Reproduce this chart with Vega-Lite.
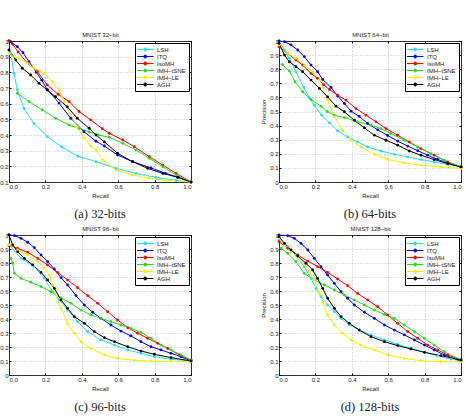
{
"$schema": "https://vega.github.io/schema/vega-lite/v6.json",
"padding": {"left": -10, "top": 31, "right": 0, "bottom": 0},
"background": "white",
"config": {
 "font": "Liberation Sans",
 "view": {"stroke": null},
 "axis": {"labelFontSize": 6, "titleFontSize": 6, "titleFontWeight": "normal", "labelColor": "#222", "titleColor": "#222", "domainColor": "black", "domainWidth": 0.8, "tickColor": "black", "tickSize": -2, "labelPadding": 3, "gridColor": "#999999", "gridDash": [1, 2], "gridWidth": 0.6, "titlePadding": 3},
 "legend": {"orient": "top-right", "offset": 2, "fillColor": "white", "strokeColor": "black", "padding": 3, "labelFontSize": 6, "rowPadding": 0, "symbolType": "M-1.5,0H4M0.75,0A0.5,0.5 0 1,0 1.75,0A0.5,0.5 0 1,0 0.75,0", "symbolSize": 36, "symbolStrokeWidth": 1, "labelOffset": 12, "labelLimit": 60, "title": null, "labelColor": "#222"},
 "line": {"strokeWidth": 1},
 "point": {"filled": true, "size": 8, "opacity": 1}
},
"datasets": {
 "a": [
  {"m":"LSH","r":0,"v":0.94},{"m":"LSH","r":0.01,"v":0.92},{"m":"LSH","r":0.027,"v":0.794},{"m":"LSH","r":0.046,"v":0.687},{"m":"LSH","r":0.082,"v":0.57},{"m":"LSH","r":0.137,"v":0.474},{"m":"LSH","r":0.21,"v":0.39},{"m":"LSH","r":0.289,"v":0.324},{"m":"LSH","r":0.38,"v":0.264},{"m":"LSH","r":0.478,"v":0.23},{"m":"LSH","r":0.588,"v":0.187},{"m":"LSH","r":0.698,"v":0.155},{"m":"LSH","r":0.808,"v":0.13},{"m":"LSH","r":0.918,"v":0.11},{"m":"LSH","r":1,"v":0.1},
  {"m":"ITQ","r":0,"v":1},{"m":"ITQ","r":0.01,"v":0.995},{"m":"ITQ","r":0.046,"v":0.964},{"m":"ITQ","r":0.077,"v":0.925},{"m":"ITQ","r":0.11,"v":0.868},{"m":"ITQ","r":0.15,"v":0.8},{"m":"ITQ","r":0.18,"v":0.75},{"m":"ITQ","r":0.21,"v":0.69},{"m":"ITQ","r":0.275,"v":0.604},{"m":"ITQ","r":0.339,"v":0.507},{"m":"ITQ","r":0.412,"v":0.421},{"m":"ITQ","r":0.478,"v":0.36},{"m":"ITQ","r":0.524,"v":0.33},{"m":"ITQ","r":0.597,"v":0.272},{"m":"ITQ","r":0.679,"v":0.23},{"m":"ITQ","r":0.78,"v":0.19},{"m":"ITQ","r":0.86,"v":0.155},{"m":"ITQ","r":0.93,"v":0.13},{"m":"ITQ","r":1,"v":0.1},
  {"m":"IsoMH","r":0,"v":1},{"m":"IsoMH","r":0.02,"v":0.98},{"m":"IsoMH","r":0.05,"v":0.93},{"m":"IsoMH","r":0.1,"v":0.86},{"m":"IsoMH","r":0.156,"v":0.804},{"m":"IsoMH","r":0.21,"v":0.72},{"m":"IsoMH","r":0.27,"v":0.66},{"m":"IsoMH","r":0.33,"v":0.613},{"m":"IsoMH","r":0.385,"v":0.55},{"m":"IsoMH","r":0.449,"v":0.496},{"m":"IsoMH","r":0.513,"v":0.44},{"m":"IsoMH","r":0.551,"v":0.411},{"m":"IsoMH","r":0.625,"v":0.368},{"m":"IsoMH","r":0.689,"v":0.325},{"m":"IsoMH","r":0.771,"v":0.261},{"m":"IsoMH","r":0.845,"v":0.208},{"m":"IsoMH","r":0.918,"v":0.155},{"m":"IsoMH","r":1,"v":0.1},
  {"m":"IMH−tSNE","r":0.046,"v":0.666},{"m":"IMH−tSNE","r":0.11,"v":0.613},{"m":"IMH−tSNE","r":0.183,"v":0.56},{"m":"IMH−tSNE","r":0.256,"v":0.507},{"m":"IMH−tSNE","r":0.33,"v":0.464},{"m":"IMH−tSNE","r":0.385,"v":0.443},{"m":"IMH−tSNE","r":0.44,"v":0.42},{"m":"IMH−tSNE","r":0.49,"v":0.4},{"m":"IMH−tSNE","r":0.551,"v":0.385},{"m":"IMH−tSNE","r":0.625,"v":0.347},{"m":"IMH−tSNE","r":0.698,"v":0.304},{"m":"IMH−tSNE","r":0.771,"v":0.251},{"m":"IMH−tSNE","r":0.845,"v":0.198},{"m":"IMH−tSNE","r":0.918,"v":0.145},{"m":"IMH−tSNE","r":1,"v":0.1},
  {"m":"IMH−LE","r":0,"v":0.92},{"m":"IMH−LE","r":0.02,"v":0.9},{"m":"IMH−LE","r":0.055,"v":0.89},{"m":"IMH−LE","r":0.1,"v":0.86},{"m":"IMH−LE","r":0.137,"v":0.826},{"m":"IMH−LE","r":0.192,"v":0.794},{"m":"IMH−LE","r":0.238,"v":0.74},{"m":"IMH−LE","r":0.275,"v":0.687},{"m":"IMH−LE","r":0.302,"v":0.613},{"m":"IMH−LE","r":0.339,"v":0.528},{"m":"IMH−LE","r":0.375,"v":0.45},{"m":"IMH−LE","r":0.412,"v":0.381},{"m":"IMH−LE","r":0.45,"v":0.33},{"m":"IMH−LE","r":0.478,"v":0.304},{"m":"IMH−LE","r":0.515,"v":0.24},{"m":"IMH−LE","r":0.588,"v":0.176},{"m":"IMH−LE","r":0.679,"v":0.145},{"m":"IMH−LE","r":0.771,"v":0.123},{"m":"IMH−LE","r":0.87,"v":0.11},{"m":"IMH−LE","r":1,"v":0.1},
  {"m":"AGH","r":0,"v":0.943},{"m":"AGH","r":0.037,"v":0.879},{"m":"AGH","r":0.073,"v":0.826},{"m":"AGH","r":0.119,"v":0.783},{"m":"AGH","r":0.165,"v":0.73},{"m":"AGH","r":0.21,"v":0.687},{"m":"AGH","r":0.256,"v":0.644},{"m":"AGH","r":0.32,"v":0.58},{"m":"AGH","r":0.375,"v":0.507},{"m":"AGH","r":0.44,"v":0.443},{"m":"AGH","r":0.478,"v":0.4},{"m":"AGH","r":0.524,"v":0.356},{"m":"AGH","r":0.597,"v":0.283},{"m":"AGH","r":0.679,"v":0.23},{"m":"AGH","r":0.762,"v":0.187},{"m":"AGH","r":0.845,"v":0.155},{"m":"AGH","r":0.927,"v":0.13},{"m":"AGH","r":1,"v":0.1}
 ],
 "b": [
  {"m":"LSH","r":0,"v":1},{"m":"LSH","r":0.03,"v":0.936},{"m":"LSH","r":0.057,"v":0.877},{"m":"LSH","r":0.093,"v":0.782},{"m":"LSH","r":0.136,"v":0.671},{"m":"LSH","r":0.165,"v":0.6},{"m":"LSH","r":0.194,"v":0.545},{"m":"LSH","r":0.234,"v":0.474},{"m":"LSH","r":0.277,"v":0.419},{"m":"LSH","r":0.322,"v":0.363},{"m":"LSH","r":0.377,"v":0.32},{"m":"LSH","r":0.432,"v":0.284},{"m":"LSH","r":0.487,"v":0.249},{"m":"LSH","r":0.56,"v":0.22},{"m":"LSH","r":0.634,"v":0.197},{"m":"LSH","r":0.707,"v":0.178},{"m":"LSH","r":0.78,"v":0.159},{"m":"LSH","r":0.853,"v":0.142},{"m":"LSH","r":0.927,"v":0.126},{"m":"LSH","r":1,"v":0.107},
  {"m":"ITQ","r":0,"v":1},{"m":"ITQ","r":0.03,"v":0.995},{"m":"ITQ","r":0.066,"v":0.972},{"m":"ITQ","r":0.103,"v":0.936},{"m":"ITQ","r":0.139,"v":0.889},{"m":"ITQ","r":0.176,"v":0.829},{"m":"ITQ","r":0.212,"v":0.782},{"m":"ITQ","r":0.24,"v":0.727},{"m":"ITQ","r":0.286,"v":0.671},{"m":"ITQ","r":0.322,"v":0.61},{"m":"ITQ","r":0.359,"v":0.557},{"m":"ITQ","r":0.396,"v":0.502},{"m":"ITQ","r":0.441,"v":0.465},{"m":"ITQ","r":0.487,"v":0.415},{"m":"ITQ","r":0.542,"v":0.37},{"m":"ITQ","r":0.597,"v":0.33},{"m":"ITQ","r":0.652,"v":0.29},{"m":"ITQ","r":0.707,"v":0.255},{"m":"ITQ","r":0.762,"v":0.222},{"m":"ITQ","r":0.817,"v":0.19},{"m":"ITQ","r":0.872,"v":0.16},{"m":"ITQ","r":0.927,"v":0.135},{"m":"ITQ","r":1,"v":0.107},
  {"m":"IsoMH","r":0,"v":0.96},{"m":"IsoMH","r":0.048,"v":0.912},{"m":"IsoMH","r":0.093,"v":0.865},{"m":"IsoMH","r":0.13,"v":0.829},{"m":"IsoMH","r":0.176,"v":0.77},{"m":"IsoMH","r":0.212,"v":0.735},{"m":"IsoMH","r":0.245,"v":0.69},{"m":"IsoMH","r":0.277,"v":0.656},{"m":"IsoMH","r":0.322,"v":0.616},{"m":"IsoMH","r":0.368,"v":0.581},{"m":"IsoMH","r":0.423,"v":0.521},{"m":"IsoMH","r":0.478,"v":0.474},{"m":"IsoMH","r":0.533,"v":0.427},{"m":"IsoMH","r":0.588,"v":0.379},{"m":"IsoMH","r":0.652,"v":0.332},{"m":"IsoMH","r":0.716,"v":0.284},{"m":"IsoMH","r":0.78,"v":0.237},{"m":"IsoMH","r":0.853,"v":0.19},{"m":"IsoMH","r":0.927,"v":0.142},{"m":"IsoMH","r":1,"v":0.107},
  {"m":"IMH−tSNE","r":0.018,"v":0.834},{"m":"IMH−tSNE","r":0.057,"v":0.787},{"m":"IMH−tSNE","r":0.088,"v":0.711},{"m":"IMH−tSNE","r":0.13,"v":0.64},{"m":"IMH−tSNE","r":0.176,"v":0.585},{"m":"IMH−tSNE","r":0.231,"v":0.538},{"m":"IMH−tSNE","r":0.265,"v":0.5},{"m":"IMH−tSNE","r":0.304,"v":0.474},{"m":"IMH−tSNE","r":0.359,"v":0.457},{"m":"IMH−tSNE","r":0.432,"v":0.427},{"m":"IMH−tSNE","r":0.505,"v":0.403},{"m":"IMH−tSNE","r":0.56,"v":0.379},{"m":"IMH−tSNE","r":0.615,"v":0.344},{"m":"IMH−tSNE","r":0.689,"v":0.296},{"m":"IMH−tSNE","r":0.762,"v":0.249},{"m":"IMH−tSNE","r":0.835,"v":0.201},{"m":"IMH−tSNE","r":0.908,"v":0.154},{"m":"IMH−tSNE","r":1,"v":0.107},
  {"m":"IMH−LE","r":0,"v":0.972},{"m":"IMH−LE","r":0.048,"v":0.912},{"m":"IMH−LE","r":0.093,"v":0.877},{"m":"IMH−LE","r":0.139,"v":0.829},{"m":"IMH−LE","r":0.185,"v":0.782},{"m":"IMH−LE","r":0.222,"v":0.723},{"m":"IMH−LE","r":0.24,"v":0.671},{"m":"IMH−LE","r":0.267,"v":0.581},{"m":"IMH−LE","r":0.304,"v":0.462},{"m":"IMH−LE","r":0.35,"v":0.367},{"m":"IMH−LE","r":0.396,"v":0.296},{"m":"IMH−LE","r":0.45,"v":0.249},{"m":"IMH−LE","r":0.524,"v":0.197},{"m":"IMH−LE","r":0.597,"v":0.161},{"m":"IMH−LE","r":0.689,"v":0.135},{"m":"IMH−LE","r":0.78,"v":0.118},{"m":"IMH−LE","r":0.89,"v":0.107},{"m":"IMH−LE","r":1,"v":0.095},
  {"m":"AGH","r":0,"v":0.983},{"m":"AGH","r":0.03,"v":0.9},{"m":"AGH","r":0.057,"v":0.853},{"m":"AGH","r":0.093,"v":0.818},{"m":"AGH","r":0.13,"v":0.782},{"m":"AGH","r":0.176,"v":0.723},{"m":"AGH","r":0.222,"v":0.664},{"m":"AGH","r":0.267,"v":0.604},{"m":"AGH","r":0.313,"v":0.538},{"m":"AGH","r":0.359,"v":0.498},{"m":"AGH","r":0.414,"v":0.438},{"m":"AGH","r":0.469,"v":0.384},{"m":"AGH","r":0.524,"v":0.332},{"m":"AGH","r":0.588,"v":0.296},{"m":"AGH","r":0.652,"v":0.261},{"m":"AGH","r":0.716,"v":0.22},{"m":"AGH","r":0.78,"v":0.19},{"m":"AGH","r":0.853,"v":0.159},{"m":"AGH","r":0.927,"v":0.13},{"m":"AGH","r":1,"v":0.107}
 ],
 "c": [
  {"m":"LSH","r":0,"v":0.93},{"m":"LSH","r":0.066,"v":0.833},{"m":"LSH","r":0.139,"v":0.774},{"m":"LSH","r":0.194,"v":0.69},{"m":"LSH","r":0.24,"v":0.595},{"m":"LSH","r":0.277,"v":0.536},{"m":"LSH","r":0.322,"v":0.464},{"m":"LSH","r":0.377,"v":0.381},{"m":"LSH","r":0.432,"v":0.31},{"m":"LSH","r":0.505,"v":0.25},{"m":"LSH","r":0.579,"v":0.214},{"m":"LSH","r":0.652,"v":0.179},{"m":"LSH","r":0.725,"v":0.155},{"m":"LSH","r":0.799,"v":0.131},{"m":"LSH","r":0.89,"v":0.112},{"m":"LSH","r":1,"v":0.1},
  {"m":"ITQ","r":0,"v":1},{"m":"ITQ","r":0.03,"v":0.995},{"m":"ITQ","r":0.066,"v":0.976},{"m":"ITQ","r":0.103,"v":0.948},{"m":"ITQ","r":0.139,"v":0.91},{"m":"ITQ","r":0.176,"v":0.857},{"m":"ITQ","r":0.212,"v":0.81},{"m":"ITQ","r":0.249,"v":0.757},{"m":"ITQ","r":0.286,"v":0.695},{"m":"ITQ","r":0.322,"v":0.643},{"m":"ITQ","r":0.368,"v":0.567},{"m":"ITQ","r":0.414,"v":0.5},{"m":"ITQ","r":0.46,"v":0.448},{"m":"ITQ","r":0.505,"v":0.405},{"m":"ITQ","r":0.56,"v":0.357},{"m":"ITQ","r":0.615,"v":0.314},{"m":"ITQ","r":0.67,"v":0.279},{"m":"ITQ","r":0.725,"v":0.238},{"m":"ITQ","r":0.78,"v":0.202},{"m":"ITQ","r":0.835,"v":0.179},{"m":"ITQ","r":0.89,"v":0.155},{"m":"ITQ","r":0.945,"v":0.131},{"m":"ITQ","r":1,"v":0.1},
  {"m":"IsoMH","r":0,"v":0.924},{"m":"IsoMH","r":0.048,"v":0.905},{"m":"IsoMH","r":0.103,"v":0.876},{"m":"IsoMH","r":0.158,"v":0.833},{"m":"IsoMH","r":0.212,"v":0.786},{"m":"IsoMH","r":0.267,"v":0.733},{"m":"IsoMH","r":0.322,"v":0.679},{"m":"IsoMH","r":0.377,"v":0.624},{"m":"IsoMH","r":0.432,"v":0.567},{"m":"IsoMH","r":0.487,"v":0.512},{"m":"IsoMH","r":0.542,"v":0.452},{"m":"IsoMH","r":0.597,"v":0.393},{"m":"IsoMH","r":0.652,"v":0.338},{"m":"IsoMH","r":0.707,"v":0.298},{"m":"IsoMH","r":0.762,"v":0.262},{"m":"IsoMH","r":0.817,"v":0.226},{"m":"IsoMH","r":0.872,"v":0.19},{"m":"IsoMH","r":0.936,"v":0.143},{"m":"IsoMH","r":1,"v":0.107},
  {"m":"IMH−tSNE","r":0.011,"v":0.833},{"m":"IMH−tSNE","r":0.02,"v":0.8},{"m":"IMH−tSNE","r":0.03,"v":0.726},{"m":"IMH−tSNE","r":0.066,"v":0.69},{"m":"IMH−tSNE","r":0.121,"v":0.662},{"m":"IMH−tSNE","r":0.176,"v":0.631},{"m":"IMH−tSNE","r":0.231,"v":0.595},{"m":"IMH−tSNE","r":0.286,"v":0.55},{"m":"IMH−tSNE","r":0.341,"v":0.512},{"m":"IMH−tSNE","r":0.396,"v":0.464},{"m":"IMH−tSNE","r":0.45,"v":0.429},{"m":"IMH−tSNE","r":0.505,"v":0.405},{"m":"IMH−tSNE","r":0.56,"v":0.381},{"m":"IMH−tSNE","r":0.615,"v":0.357},{"m":"IMH−tSNE","r":0.67,"v":0.333},{"m":"IMH−tSNE","r":0.725,"v":0.305},{"m":"IMH−tSNE","r":0.78,"v":0.262},{"m":"IMH−tSNE","r":0.835,"v":0.214},{"m":"IMH−tSNE","r":0.89,"v":0.179},{"m":"IMH−tSNE","r":0.945,"v":0.143},{"m":"IMH−tSNE","r":1,"v":0.107},
  {"m":"IMH−LE","r":0,"v":0.93},{"m":"IMH−LE","r":0.048,"v":0.893},{"m":"IMH−LE","r":0.103,"v":0.857},{"m":"IMH−LE","r":0.158,"v":0.81},{"m":"IMH−LE","r":0.194,"v":0.762},{"m":"IMH−LE","r":0.222,"v":0.714},{"m":"IMH−LE","r":0.24,"v":0.643},{"m":"IMH−LE","r":0.258,"v":0.571},{"m":"IMH−LE","r":0.286,"v":0.476},{"m":"IMH−LE","r":0.322,"v":0.369},{"m":"IMH−LE","r":0.359,"v":0.298},{"m":"IMH−LE","r":0.396,"v":0.238},{"m":"IMH−LE","r":0.45,"v":0.19},{"m":"IMH−LE","r":0.524,"v":0.143},{"m":"IMH−LE","r":0.597,"v":0.119},{"m":"IMH−LE","r":0.689,"v":0.105},{"m":"IMH−LE","r":0.78,"v":0.1},{"m":"IMH−LE","r":0.89,"v":0.097},{"m":"IMH−LE","r":1,"v":0.097},
  {"m":"AGH","r":0,"v":1},{"m":"AGH","r":0.02,"v":0.93},{"m":"AGH","r":0.048,"v":0.88},{"m":"AGH","r":0.084,"v":0.833},{"m":"AGH","r":0.13,"v":0.786},{"m":"AGH","r":0.176,"v":0.733},{"m":"AGH","r":0.212,"v":0.679},{"m":"AGH","r":0.249,"v":0.619},{"m":"AGH","r":0.286,"v":0.536},{"m":"AGH","r":0.322,"v":0.476},{"m":"AGH","r":0.359,"v":0.417},{"m":"AGH","r":0.414,"v":0.369},{"m":"AGH","r":0.469,"v":0.31},{"m":"AGH","r":0.524,"v":0.267},{"m":"AGH","r":0.579,"v":0.238},{"m":"AGH","r":0.652,"v":0.202},{"m":"AGH","r":0.725,"v":0.171},{"m":"AGH","r":0.799,"v":0.148},{"m":"AGH","r":0.89,"v":0.124},{"m":"AGH","r":1,"v":0.1}
 ],
 "d": [
  {"m":"LSH","r":0,"v":0.964},{"m":"LSH","r":0.048,"v":0.917},{"m":"LSH","r":0.093,"v":0.857},{"m":"LSH","r":0.139,"v":0.774},{"m":"LSH","r":0.176,"v":0.69},{"m":"LSH","r":0.203,"v":0.619},{"m":"LSH","r":0.231,"v":0.56},{"m":"LSH","r":0.267,"v":0.5},{"m":"LSH","r":0.304,"v":0.452},{"m":"LSH","r":0.341,"v":0.405},{"m":"LSH","r":0.386,"v":0.357},{"m":"LSH","r":0.441,"v":0.321},{"m":"LSH","r":0.505,"v":0.286},{"m":"LSH","r":0.579,"v":0.25},{"m":"LSH","r":0.652,"v":0.219},{"m":"LSH","r":0.725,"v":0.19},{"m":"LSH","r":0.799,"v":0.162},{"m":"LSH","r":0.872,"v":0.136},{"m":"LSH","r":0.945,"v":0.114},{"m":"LSH","r":1,"v":0.1},
  {"m":"ITQ","r":0,"v":1},{"m":"ITQ","r":0.048,"v":0.995},{"m":"ITQ","r":0.084,"v":0.976},{"m":"ITQ","r":0.121,"v":0.94},{"m":"ITQ","r":0.158,"v":0.893},{"m":"ITQ","r":0.194,"v":0.833},{"m":"ITQ","r":0.231,"v":0.774},{"m":"ITQ","r":0.267,"v":0.714},{"m":"ITQ","r":0.304,"v":0.655},{"m":"ITQ","r":0.341,"v":0.595},{"m":"ITQ","r":0.377,"v":0.548},{"m":"ITQ","r":0.414,"v":0.5},{"m":"ITQ","r":0.469,"v":0.448},{"m":"ITQ","r":0.524,"v":0.405},{"m":"ITQ","r":0.579,"v":0.357},{"m":"ITQ","r":0.634,"v":0.321},{"m":"ITQ","r":0.689,"v":0.286},{"m":"ITQ","r":0.744,"v":0.25},{"m":"ITQ","r":0.799,"v":0.214},{"m":"ITQ","r":0.853,"v":0.179},{"m":"ITQ","r":0.908,"v":0.143},{"m":"ITQ","r":1,"v":0.1},
  {"m":"IsoMH","r":0,"v":0.952},{"m":"IsoMH","r":0.048,"v":0.905},{"m":"IsoMH","r":0.103,"v":0.857},{"m":"IsoMH","r":0.158,"v":0.814},{"m":"IsoMH","r":0.212,"v":0.774},{"m":"IsoMH","r":0.267,"v":0.733},{"m":"IsoMH","r":0.322,"v":0.686},{"m":"IsoMH","r":0.377,"v":0.638},{"m":"IsoMH","r":0.432,"v":0.583},{"m":"IsoMH","r":0.487,"v":0.536},{"m":"IsoMH","r":0.542,"v":0.488},{"m":"IsoMH","r":0.597,"v":0.429},{"m":"IsoMH","r":0.652,"v":0.369},{"m":"IsoMH","r":0.707,"v":0.31},{"m":"IsoMH","r":0.762,"v":0.262},{"m":"IsoMH","r":0.817,"v":0.214},{"m":"IsoMH","r":0.872,"v":0.179},{"m":"IsoMH","r":0.927,"v":0.143},{"m":"IsoMH","r":1,"v":0.107},
  {"m":"IMH−tSNE","r":0.011,"v":0.905},{"m":"IMH−tSNE","r":0.048,"v":0.869},{"m":"IMH−tSNE","r":0.093,"v":0.81},{"m":"IMH−tSNE","r":0.139,"v":0.726},{"m":"IMH−tSNE","r":0.194,"v":0.679},{"m":"IMH−tSNE","r":0.249,"v":0.643},{"m":"IMH−tSNE","r":0.304,"v":0.607},{"m":"IMH−tSNE","r":0.359,"v":0.571},{"m":"IMH−tSNE","r":0.414,"v":0.536},{"m":"IMH−tSNE","r":0.469,"v":0.5},{"m":"IMH−tSNE","r":0.524,"v":0.464},{"m":"IMH−tSNE","r":0.579,"v":0.433},{"m":"IMH−tSNE","r":0.634,"v":0.405},{"m":"IMH−tSNE","r":0.689,"v":0.357},{"m":"IMH−tSNE","r":0.744,"v":0.31},{"m":"IMH−tSNE","r":0.799,"v":0.262},{"m":"IMH−tSNE","r":0.853,"v":0.214},{"m":"IMH−tSNE","r":0.908,"v":0.167},{"m":"IMH−tSNE","r":1,"v":0.107},
  {"m":"IMH−LE","r":0,"v":0.98},{"m":"IMH−LE","r":0.03,"v":0.929},{"m":"IMH−LE","r":0.066,"v":0.881},{"m":"IMH−LE","r":0.103,"v":0.838},{"m":"IMH−LE","r":0.139,"v":0.79},{"m":"IMH−LE","r":0.167,"v":0.738},{"m":"IMH−LE","r":0.194,"v":0.679},{"m":"IMH−LE","r":0.222,"v":0.583},{"m":"IMH−LE","r":0.24,"v":0.524},{"m":"IMH−LE","r":0.267,"v":0.429},{"m":"IMH−LE","r":0.304,"v":0.357},{"m":"IMH−LE","r":0.35,"v":0.298},{"m":"IMH−LE","r":0.396,"v":0.25},{"m":"IMH−LE","r":0.45,"v":0.214},{"m":"IMH−LE","r":0.524,"v":0.179},{"m":"IMH−LE","r":0.597,"v":0.143},{"m":"IMH−LE","r":0.689,"v":0.119},{"m":"IMH−LE","r":0.78,"v":0.102},{"m":"IMH−LE","r":0.89,"v":0.095},{"m":"IMH−LE","r":1,"v":0.095},
  {"m":"AGH","r":0,"v":0.988},{"m":"AGH","r":0.03,"v":0.94},{"m":"AGH","r":0.066,"v":0.893},{"m":"AGH","r":0.103,"v":0.85},{"m":"AGH","r":0.148,"v":0.798},{"m":"AGH","r":0.185,"v":0.75},{"m":"AGH","r":0.212,"v":0.69},{"m":"AGH","r":0.24,"v":0.619},{"m":"AGH","r":0.267,"v":0.548},{"m":"AGH","r":0.304,"v":0.476},{"m":"AGH","r":0.341,"v":0.417},{"m":"AGH","r":0.386,"v":0.369},{"m":"AGH","r":0.441,"v":0.321},{"m":"AGH","r":0.505,"v":0.274},{"m":"AGH","r":0.579,"v":0.238},{"m":"AGH","r":0.652,"v":0.21},{"m":"AGH","r":0.725,"v":0.186},{"m":"AGH","r":0.799,"v":0.162},{"m":"AGH","r":0.89,"v":0.138},{"m":"AGH","r":1,"v":0.107}
 ]
},
"columns": 2,
"spacing": {"row": 53, "column": 88},
"bounds": "flush",
"resolve": {"scale": {"color": "independent"}, "legend": {"color": "independent"}},
"concat": [
 {"width": 182, "height": 141, "data": {"name": "a"},
  "title": {"text": "(a) 32-bits", "orient": "bottom", "font": "Liberation Serif", "fontSize": 12.5, "fontWeight": "normal", "offset": 10, "color": "#222"},
  "layer": [
   {"mark": "line", "encoding": {
     "x": {"field": "r", "type": "quantitative", "scale": {"domain": [0, 1]}, "axis": {"values": [0, 0.2, 0.4, 0.6, 0.8, 1], "title": "Recall"}},
     "y": {"field": "v", "type": "quantitative", "scale": {"domain": [0.1, 1]}, "axis": {"values": [0.1, 0.2, 0.3, 0.4, 0.5, 0.6, 0.7, 0.8, 0.9, 1], "format": "~g", "title": "Precision"}},
     "color": {"field": "m", "type": "nominal", "scale": {"domain": ["LSH", "ITQ", "IsoMH", "IMH−tSNE", "IMH−LE", "AGH"], "range": ["#22e0ee", "#0000ff", "#ff0000", "#22dd22", "#f2f200", "#000000"]}}}},
   {"mark": "point", "encoding": {
     "x": {"field": "r", "type": "quantitative", "axis": {"orient": "top", "labels": false, "grid": false, "values": [0, 0.2, 0.4, 0.6, 0.8, 1], "title": "MNIST 32−bit"}},
     "y": {"field": "v", "type": "quantitative", "axis": {"orient": "right", "labels": false, "grid": false, "values": [0.1, 0.2, 0.3, 0.4, 0.5, 0.6, 0.7, 0.8, 0.9, 1], "title": null}},
     "color": {"field": "m", "type": "nominal"}}}
  ],
  "resolve": {"axis": {"x": "independent", "y": "independent"}}},
 {"width": 182, "height": 141, "data": {"name": "b"},
  "title": {"text": "(b) 64-bits", "orient": "bottom", "font": "Liberation Serif", "fontSize": 12.5, "fontWeight": "normal", "offset": 10, "color": "#222"},
  "layer": [
   {"mark": "line", "encoding": {
     "x": {"field": "r", "type": "quantitative", "scale": {"domain": [0, 1]}, "axis": {"values": [0, 0.2, 0.4, 0.6, 0.8, 1], "title": "Recall"}},
     "y": {"field": "v", "type": "quantitative", "scale": {"domain": [0, 1]}, "axis": {"values": [0, 0.1, 0.2, 0.3, 0.4, 0.5, 0.6, 0.7, 0.8, 0.9, 1], "format": "~g", "title": "Precision"}},
     "color": {"field": "m", "type": "nominal", "scale": {"domain": ["LSH", "ITQ", "IsoMH", "IMH−tSNE", "IMH−LE", "AGH"], "range": ["#22e0ee", "#0000ff", "#ff0000", "#22dd22", "#f2f200", "#000000"]}}}},
   {"mark": "point", "encoding": {
     "x": {"field": "r", "type": "quantitative", "axis": {"orient": "top", "labels": false, "grid": false, "values": [0, 0.2, 0.4, 0.6, 0.8, 1], "title": "MNIST 64−bit"}},
     "y": {"field": "v", "type": "quantitative", "axis": {"orient": "right", "labels": false, "grid": false, "values": [0, 0.1, 0.2, 0.3, 0.4, 0.5, 0.6, 0.7, 0.8, 0.9, 1], "title": null}},
     "color": {"field": "m", "type": "nominal"}}}
  ],
  "resolve": {"axis": {"x": "independent", "y": "independent"}}},
 {"width": 182, "height": 140, "data": {"name": "c"},
  "title": {"text": "(c) 96-bits", "orient": "bottom", "font": "Liberation Serif", "fontSize": 12.5, "fontWeight": "normal", "offset": 10, "color": "#222"},
  "layer": [
   {"mark": "line", "encoding": {
     "x": {"field": "r", "type": "quantitative", "scale": {"domain": [0, 1]}, "axis": {"values": [0, 0.2, 0.4, 0.6, 0.8, 1], "title": "Recall"}},
     "y": {"field": "v", "type": "quantitative", "scale": {"domain": [0, 1]}, "axis": {"values": [0, 0.1, 0.2, 0.3, 0.4, 0.5, 0.6, 0.7, 0.8, 0.9, 1], "format": "~g", "title": "Precision"}},
     "color": {"field": "m", "type": "nominal", "scale": {"domain": ["LSH", "ITQ", "IsoMH", "IMH−tSNE", "IMH−LE", "AGH"], "range": ["#22e0ee", "#0000ff", "#ff0000", "#22dd22", "#f2f200", "#000000"]}}}},
   {"mark": "point", "encoding": {
     "x": {"field": "r", "type": "quantitative", "axis": {"orient": "top", "labels": false, "grid": false, "values": [0, 0.2, 0.4, 0.6, 0.8, 1], "title": "MNIST 96−bit"}},
     "y": {"field": "v", "type": "quantitative", "axis": {"orient": "right", "labels": false, "grid": false, "values": [0, 0.1, 0.2, 0.3, 0.4, 0.5, 0.6, 0.7, 0.8, 0.9, 1], "title": null}},
     "color": {"field": "m", "type": "nominal"}}}
  ],
  "resolve": {"axis": {"x": "independent", "y": "independent"}}},
 {"width": 182, "height": 140, "data": {"name": "d"},
  "title": {"text": "(d) 128-bits", "orient": "bottom", "font": "Liberation Serif", "fontSize": 12.5, "fontWeight": "normal", "offset": 10, "color": "#222"},
  "layer": [
   {"mark": "line", "encoding": {
     "x": {"field": "r", "type": "quantitative", "scale": {"domain": [0, 1]}, "axis": {"values": [0, 0.2, 0.4, 0.6, 0.8, 1], "title": "Recall"}},
     "y": {"field": "v", "type": "quantitative", "scale": {"domain": [0, 1]}, "axis": {"values": [0, 0.1, 0.2, 0.3, 0.4, 0.5, 0.6, 0.7, 0.8, 0.9, 1], "format": "~g", "title": "Precision"}},
     "color": {"field": "m", "type": "nominal", "scale": {"domain": ["LSH", "ITQ", "IsoMH", "IMH−tSNE", "IMH−LE", "AGH"], "range": ["#22e0ee", "#0000ff", "#ff0000", "#22dd22", "#f2f200", "#000000"]}}}},
   {"mark": "point", "encoding": {
     "x": {"field": "r", "type": "quantitative", "axis": {"orient": "top", "labels": false, "grid": false, "values": [0, 0.2, 0.4, 0.6, 0.8, 1], "title": "MNIST 128−bit"}},
     "y": {"field": "v", "type": "quantitative", "axis": {"orient": "right", "labels": false, "grid": false, "values": [0, 0.1, 0.2, 0.3, 0.4, 0.5, 0.6, 0.7, 0.8, 0.9, 1], "title": null}},
     "color": {"field": "m", "type": "nominal"}}}
  ],
  "resolve": {"axis": {"x": "independent", "y": "independent"}}}
]
}
